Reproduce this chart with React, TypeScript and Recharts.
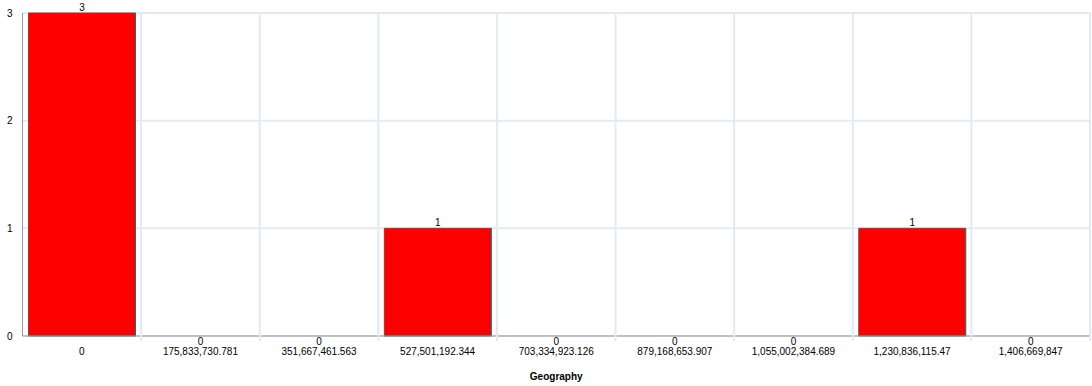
import React from 'react';
import { BarChart, Bar, XAxis, YAxis, CartesianGrid, LabelList } from 'recharts';

const categories: string[] = [
  '0',
  '175,833,730.781',
  '351,667,461.563',
  '527,501,192.344',
  '703,334,923.126',
  '879,168,653.907',
  '1,055,002,384.689',
  '1,230,836,115.47',
  '1,406,669,847',
];
const counts: number[] = [3, 0, 0, 1, 0, 0, 0, 1, 0];
const yTicks: number[] = [0, 1, 2, 3];

const data = categories.map((name, i) => ({ name, count: counts[i] }));

const FONT = 'Liberation Sans, Arial, sans-serif';
const GRID = '#e2eaf4';

// x tick: category text, the "0" count of empty bins, and a grid stub at the band edge
const GeoTick = (props: any): React.ReactElement => {
  const { x, y, payload, width, visibleTicksCount, index } = props;
  const half = width / visibleTicksCount / 2;
  const axisY = y - 9;
  const c = data[index] ? data[index].count : null;
  return (
    <g>
      <line x1={x + half} x2={x + half} y1={axisY} y2={axisY + 6} stroke={GRID} strokeWidth={2} />
      {c === 0 && (
        <text x={x} y={axisY + 10} textAnchor="middle" fontSize={10} fontFamily={FONT} fill="#000">
          {c}
        </text>
      )}
      <text x={x} y={axisY + 20} textAnchor="middle" fontSize={10} fontFamily={FONT} fill="#000">
        {payload.value}
      </text>
    </g>
  );
};

// value labels above the non-empty bars
const CountLabel = (props: any): React.ReactElement | null => {
  const { x, y, width, value } = props;
  if (!value) return null;
  return (
    <text x={x + width / 2} y={y - 2} textAnchor="middle" fontSize={10} fontFamily={FONT} fill="#000">
      {value}
    </text>
  );
};

const App = (): React.ReactElement => {
  return (
    <div style={{ position: 'absolute', left: 0, top: 0, background: '#fff' }}>
      <BarChart
        width={1092}
        height={386}
        data={data}
        margin={{ top: 13, right: 2, bottom: 0, left: 0 }}
        barCategoryGap={6}
      >
        <CartesianGrid
          stroke={GRID}
          strokeWidth={2}
          verticalCoordinatesGenerator={({ offset }: any) =>
            categories.map((_, i) => offset.left + ((i + 1) * offset.width) / categories.length)
          }
        />
        <XAxis
          dataKey="name"
          height={50}
          interval={0}
          tickLine={false}
          axisLine={{ stroke: '#999' }}
          tick={<GeoTick />}
          label={{
            value: 'Geography',
            position: 'insideBottom',
            offset: 6,
            style: { fontSize: 10, fontWeight: 'bold', fontFamily: FONT, fill: '#000' },
          }}
        />
        <YAxis
          width={22.5}
          domain={[0, 3]}
          ticks={yTicks}
          tickLine={false}
          tickSize={0}
          tickMargin={10}
          axisLine={{ stroke: '#999' }}
          tick={{ fontSize: 10, fontFamily: FONT, fill: '#000' }}
        />
        <Bar dataKey="count" fill="#ff0000" stroke="#555" strokeWidth={1} isAnimationActive={false}>
          <LabelList dataKey="count" content={<CountLabel />} />
        </Bar>
      </BarChart>
    </div>
  );
};

export default App;
